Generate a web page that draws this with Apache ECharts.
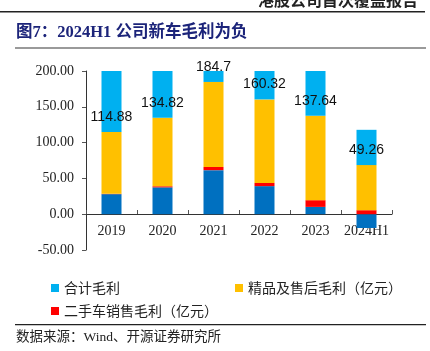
<!DOCTYPE html>
<html>
<head>
<meta charset="utf-8">
<script src="https://cdn.jsdelivr.net/npm/echarts@6/dist/echarts.min.js"></script>
<style>
  html, body { margin: 0; padding: 0; background: #fff; }
  #main { width: 430px; height: 351px; }
</style>
</head>
<body>
<div id="main"></div>
<script>
// 数据
const years = ['2019', '2020', '2021', '2022', '2023', '2024H1'];
const newCar = [28, 37.5, 61.5, 39.2, 10.2, -19.3];        // 新车毛利（不在图例中）
const usedCar = [0.5, 1.5, 4.5, 4.5, 9.4, 5.6];            // 二手车销售毛利
const afterSale = [86.38, 95.82, 118.7, 116.62, 118.04, 63.0]; // 精品及售后毛利
const total = [114.88, 134.82, 184.7, 160.32, 137.64, 49.26];  // 合计毛利
const yTicks = [-50, 0, 50, 100, 150, 200];

const chart = echarts.init(document.getElementById('main'));

const serif = '"Liberation Serif", "Noto Sans CJK SC", serif';
const cjk = '"Noto Sans CJK SC", sans-serif';

const option = {
	animation: false,
	graphic: [
		{ type: 'text', right: 12, top: -8, style: { text: '港股公司首次覆盖报告', font: 'bold 16px "Noto Sans CJK SC"', fill: '#222' } },
		{ type: 'rect', shape: { x: 0, y: 11, width: 425, height: 1.5 }, style: { fill: '#222' } },
		{ type: 'text', left: 16, top: 24, style: { text: '图7：2024H1 公司新车毛利为负', font: 'bold 16.5px "Liberation Serif", "Noto Sans CJK SC"', fill: '#1c247a' } },
		{ type: 'rect', shape: { x: 15, y: 47, width: 411, height: 2 }, style: { fill: '#9a9a9a' } },
		{ type: 'rect', shape: { x: 15, y: 324, width: 411, height: 1.2 }, style: { fill: '#222' } },
		{ type: 'text', left: 16, top: 331, style: { text: '数据来源：Wind、开源证券研究所', font: '13.5px "Liberation Serif", "Noto Sans CJK SC"', fill: '#222' } }
	],
	legend: [
		{
			data: ['合计毛利', '精品及售后毛利（亿元）'],
			left: 46, top: 276,
			itemWidth: 8, itemHeight: 8, itemGap: 115,
			icon: 'rect',
			textStyle: { fontFamily: cjk, fontSize: 14, color: '#222' }
		},
		{
			data: ['二手车销售毛利（亿元）'],
			left: 46, top: 299,
			itemWidth: 8, itemHeight: 8,
			icon: 'rect',
			textStyle: { fontFamily: cjk, fontSize: 14, color: '#222' }
		}
	],
	grid: { left: 86, right: 38, top: 71, bottom: 101 },
	xAxis: {
		type: 'category',
		data: years,
		offset: -36,
		axisLine: { onZero: false, lineStyle: { color: '#333' } },
		axisTick: { show: true, inside: true, length: 4, lineStyle: { color: '#555' } },
		axisLabel: { interval: 0, fontFamily: serif, fontSize: 14, color: '#222', margin: 10 }
	},
	yAxis: {
		type: 'value',
		min: yTicks[0], max: yTicks[yTicks.length - 1], interval: 50,
		splitLine: { show: false },
		axisLine: { show: true, lineStyle: { color: '#333' } },
		axisTick: { show: true, length: 4, lineStyle: { color: '#555' } },
		axisLabel: { fontFamily: serif, fontSize: 14, color: '#222', margin: 12, formatter: v => v.toFixed(2) }
	},
	series: [
		{ name: '新车毛利', type: 'bar', stack: 'gp', barWidth: 20, data: newCar, itemStyle: { color: '#0070C0' } },
		{ name: '二手车销售毛利（亿元）', type: 'bar', stack: 'gp', data: usedCar, itemStyle: { color: '#FF0000' } },
		{ name: '精品及售后毛利（亿元）', type: 'bar', stack: 'gp', data: afterSale, itemStyle: { color: '#FFC000' } },
		{
			name: '合计毛利', type: 'bar', stack: 'gp', data: total,
			itemStyle: { color: '#00B0F0' },
			label: {
				show: true, position: 'insideBottom', distance: 8,
				color: '#111', fontFamily: '"Liberation Sans", sans-serif', fontSize: 14
			}
		}
	]
};

chart.setOption(option);
</script>
</body>
</html>
